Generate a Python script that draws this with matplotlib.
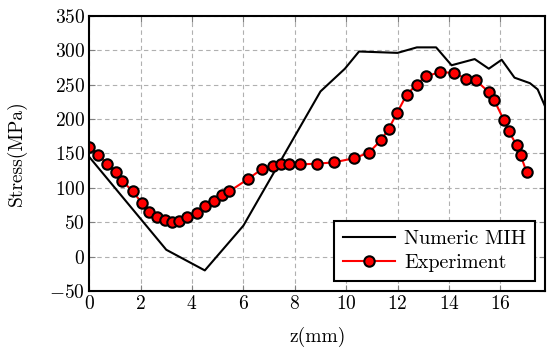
import numpy as np
import matplotlib
matplotlib.use("Agg")
from matplotlib import pyplot as plt

plt.rcParams['font.family'] = 'serif'
plt.rcParams['font.serif'] = ['cmr10']
plt.rcParams['mathtext.fontset'] = 'cm'
plt.rcParams['axes.formatter.use_mathtext'] = True

# numeric model
z_num = [0.0, 3.0, 4.5, 6.0, 9.0, 9.95, 10.5, 12.0, 12.75, 13.5, 14.1, 15.0,
         15.55, 16.05, 16.55, 17.15, 17.45, 17.8]
s_num = [145, 10, -20, 45, 240, 273, 298, 296, 304, 304, 278, 287,
         273, 286, 260, 252, 243, 213]

# measured values
z_exp = [0.0, 0.35, 0.70, 1.03, 1.29, 1.69, 2.05, 2.34, 2.65, 2.95, 3.24, 3.49,
         3.81, 4.20, 4.51, 4.87, 5.18, 5.46, 6.19, 6.71, 7.14, 7.46, 7.78, 8.19,
         8.86, 9.53, 10.31, 10.88, 11.35, 11.66, 11.98, 12.35, 12.74, 13.10,
         13.65, 14.19, 14.68, 15.05, 15.55, 15.75, 16.14, 16.33, 16.63, 16.79,
         17.02]
s_exp = [160, 148, 135, 123, 110, 95, 78, 65, 57, 53, 50, 52,
         57, 64, 73, 81, 89, 95, 113, 127, 132, 134, 134, 134,
         135, 137, 143, 151, 169, 186, 209, 235, 250, 262,
         268, 267, 258, 256, 239, 228, 198, 182, 162, 147,
         123]

fig = plt.figure(figsize=(5.47, 3.49), dpi=100)
ax = fig.add_axes([0.163, 0.166, 0.834, 0.789])

ax.plot(z_num, s_num, color='black', lw=1.5, label='Numeric MIH')
ax.plot(z_exp, s_exp, color='red', lw=1.5, marker='o', markersize=7.5,
        markerfacecolor='red', markeredgecolor='black', markeredgewidth=1.5,
        label='Experiment')

ax.set_xlim(0, 17.75)
ax.set_ylim(-50, 350)
ax.set_xticks(np.arange(0, 17, 2))
ax.set_yticks(np.arange(-50, 351, 50))
ax.grid(True, color='#b0b0b0', linestyle=(0, (4, 3)), lw=0.8)
ax.tick_params(direction='in', top=True, right=True, color='#808080',
               length=4, labelsize=14, pad=3)
for sp in ax.spines.values():
    sp.set_linewidth(1.5)

ax.set_xlabel('z(mm)', fontsize=14, labelpad=10)
ax.set_ylabel('Stress(MPa)', fontsize=14, labelpad=16)

leg = ax.legend(loc='lower right', fontsize=14.5, fancybox=False, framealpha=1,
                edgecolor='black', handlelength=2.6, handletextpad=0.45,
                borderaxespad=0.5, borderpad=0.45, labelspacing=0.3)
leg.get_frame().set_linewidth(1.5)

fig.savefig('out.png', dpi=100)
